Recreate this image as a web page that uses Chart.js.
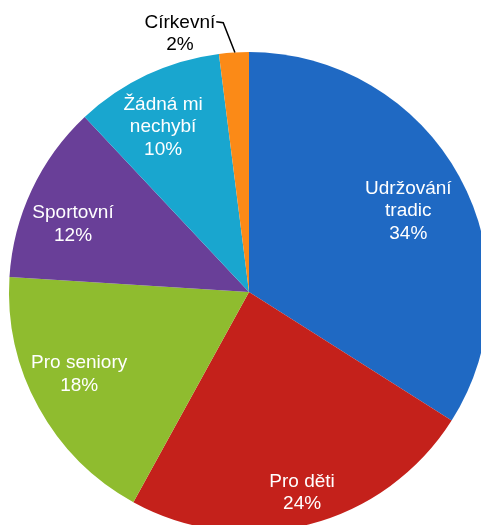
<!DOCTYPE html>
<html>
<head>
<meta charset="utf-8">
<script src="https://cdn.jsdelivr.net/npm/chart.js@4/dist/chart.umd.min.js"></script>
<style>
    html, body { margin: 0; padding: 0; background: #fff; overflow: hidden; }
    #wrap { position: absolute; left: 0; top: 0; width: 498px; height: 584px; }
</style>
</head>
<body>
<div id="wrap"><canvas id="pie"></canvas></div>
<script>
    // data
    const labels = ['Udržování tradic', 'Pro děti', 'Pro seniory', 'Sportovní', 'Žádná mi nechybí', 'Církevní'];
    const labelLines = [['Udržování', 'tradic'], ['Pro děti'], ['Pro seniory'], ['Sportovní'], ['Žádná mi', 'nechybí'], ['Církevní']];
    const values = [34, 24, 18, 12, 10, 2];
    const colors = ['#1f69c3', '#c4211b', '#8fbc2f', '#693f98', '#19a6cf', '#fb8a17'];

    // label placement: angle shift (deg) from slice middle, distance as part of radius
    const placement = [
        {shift: 1.8, dist: 0.745, color: '#fff'},
        {shift: -0.4, dist: 0.866, color: '#fff'},
        {shift: 3.0, dist: 0.786, color: '#fff'},
        {shift: -4.1, dist: 0.786, color: '#fff'},
        {shift: -2.3, dist: 0.775, color: '#fff'},
        {shift: -11.4, dist: 1.113, color: '#000', leader: true}
    ];

    const pieLabels = {
        id: 'pieLabels',
        afterDatasetsDraw(chart) {
            const ctx = chart.ctx;
            const arcs = chart.getDatasetMeta(0).data;
            const lh = 22.5;
            ctx.save();
            ctx.font = '19px "Liberation Sans", Arial, sans-serif';
            ctx.textAlign = 'center';
            ctx.textBaseline = 'middle';
            arcs.forEach(function (arc, i) {
                const p = placement[i];
                const mid = (arc.startAngle + arc.endAngle) / 2;
                const a = mid + p.shift * Math.PI / 180;
                const x = arc.x + Math.cos(a) * arc.outerRadius * p.dist;
                const y = arc.y + Math.sin(a) * arc.outerRadius * p.dist;
                const lines = labelLines[i].concat([values[i] + '%']);
                const top = y - (lines.length - 1) * lh / 2;
                ctx.fillStyle = p.color;
                lines.forEach(function (t, k) {
                    ctx.fillText(t, x, top + k * lh);
                });
                if (p.leader) {
                    const w = ctx.measureText(lines[0]).width;
                    const ex = x + w / 2 + 1;
                    const ey = top - 1;
                    const ax = arc.x + Math.cos(mid) * arc.outerRadius;
                    const ay = arc.y + Math.sin(mid) * arc.outerRadius;
                    ctx.strokeStyle = '#000';
                    ctx.lineWidth = 1.5;
                    ctx.beginPath();
                    ctx.moveTo(ex, ey);
                    ctx.lineTo(ex + 7, ey + 1);
                    ctx.lineTo(ax + 1, ay);
                    ctx.stroke();
                }
            });
            ctx.restore();
        }
    };

    new Chart(document.getElementById('pie'), {
        type: 'pie',
        data: {
            labels: labels,
            datasets: [{
                data: values,
                backgroundColor: colors,
                borderWidth: 0
            }]
        },
        options: {
            responsive: true,
            maintainAspectRatio: false,
            animation: false,
            layout: {
                padding: {top: 52, bottom: 52, left: 9, right: 9}
            },
            plugins: {
                legend: {display: false},
                tooltip: {enabled: false}
            }
        },
        plugins: [pieLabels]
    });
</script>
</body>
</html>
